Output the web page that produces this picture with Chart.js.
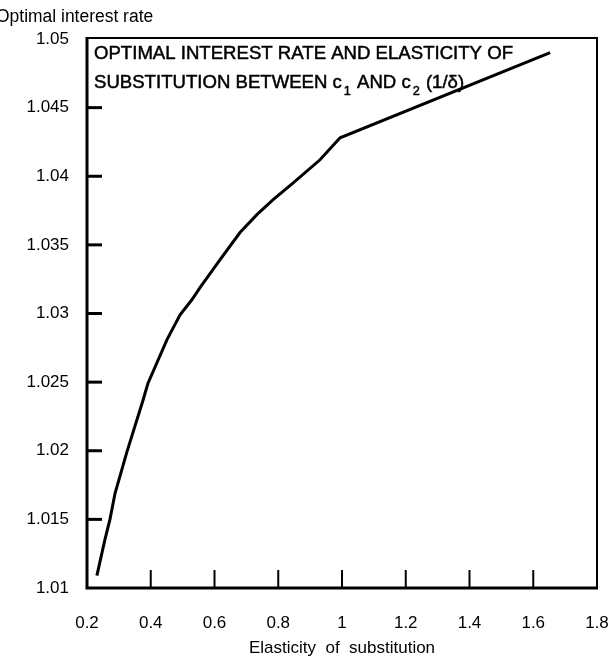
<!DOCTYPE html>
<html>
<head>
<meta charset="utf-8">
<script src="https://cdn.jsdelivr.net/npm/chart.js@4.4.1/dist/chart.umd.min.js"></script>
<style>
  html, body { margin: 0; padding: 0; background: #fff; }
  #wrap { width: 614px; height: 662px; position: relative; }
</style>
</head>
<body>
<div id="wrap"><canvas id="c" width="614" height="662"></canvas></div>
<script>
// Elasticity of substitution (x) and optimal interest rate (y)
const elasticity = [0.231, 0.256, 0.272, 0.288, 0.325, 0.376, 0.391, 0.451, 0.492, 0.529, 0.555, 0.617, 0.680, 0.733, 0.784, 0.846, 0.931, 0.994, 1.653];
const interestRate = [1.0109, 1.0135, 1.0150, 1.0169, 1.0199, 1.0237, 1.0249, 1.0281, 1.0299, 1.0310, 1.0319, 1.0339, 1.0359, 1.0372, 1.0383, 1.0395, 1.0412, 1.0428, 1.0490];
const xTicks = [0.2, 0.4, 0.6, 0.8, 1.0, 1.2, 1.4, 1.6, 1.8];
const yTicks = [1.01, 1.015, 1.02, 1.025, 1.03, 1.035, 1.04, 1.045, 1.05];
const xTitle = 'Elasticity  of  substitution';
const yTitle = 'Optimal interest rate';
const titleLine1 = 'OPTIMAL INTEREST RATE AND ELASTICITY OF';

const points = elasticity.map((x, i) => ({ x: x, y: interestRate[i] }));
const fmt = v => String(Number(Number(v).toFixed(3)));
const FONT = "'Liberation Sans', Arial, sans-serif";

const framePlugin = {
  id: 'frame',
  afterDatasetsDraw(chart) {
    const { ctx, chartArea: a, scales } = chart;
    ctx.save();
    ctx.strokeStyle = '#000';
    ctx.lineCap = 'butt';
    ctx.lineWidth = 2;
    ctx.beginPath();
    ctx.moveTo(a.left, a.top - 1); ctx.lineTo(a.right, a.top - 1);
    ctx.moveTo(a.right, a.top - 2); ctx.lineTo(a.right, a.bottom);
    ctx.stroke();
    ctx.lineWidth = 3;
    ctx.beginPath();
    ctx.moveTo(a.left, a.top - 2); ctx.lineTo(a.left, a.bottom + 1.5);
    ctx.moveTo(a.left - 1.5, a.bottom); ctx.lineTo(a.right + 1, a.bottom);
    ctx.stroke();
    ctx.lineWidth = 3;
    yTicks.slice(1, -1).forEach(v => {
      const y = scales.y.getPixelForValue(v);
      ctx.beginPath(); ctx.moveTo(a.left, y); ctx.lineTo(a.left + 15, y); ctx.stroke();
    });
    ctx.lineWidth = 2;
    xTicks.slice(1, -1).forEach(v => {
      const x = scales.x.getPixelForValue(v);
      ctx.beginPath(); ctx.moveTo(x, a.bottom); ctx.lineTo(x, a.bottom - 18); ctx.stroke();
    });
    ctx.restore();
  },
  afterDraw(chart) {
    const { ctx, chartArea: a } = chart;
    ctx.save();
    ctx.fillStyle = '#000';
    ctx.strokeStyle = '#000';
    ctx.lineWidth = 0.5;
    ctx.textBaseline = 'alphabetic';
    ctx.font = '18px ' + FONT;
    ctx.save();
    ctx.translate(-4, 22);
    ctx.scale(0.97, 1);
    ctx.fillText(yTitle, 0, 0);
    ctx.restore();
    ctx.font = '19px ' + FONT;
    const w1 = ctx.measureText(titleLine1).width;
    const sx = 419 / w1;
    ctx.save();
    ctx.translate(a.left + 7, 59);
    ctx.scale(sx, 1);
    ctx.fillText(titleLine1, 0, 0);
    ctx.strokeText(titleLine1, 0, 0);
    const parts = [
      ['SUBSTITUTION BETWEEN c', false],
      ['1', true],
      [' AND c', false],
      ['2', true],
      [' (1/\u03b4)', false]
    ];
    let x = 0;
    parts.forEach(([t, sub]) => {
      if (sub) {
        ctx.font = '13px ' + FONT;
        x += 2;
        ctx.fillText(t, x, 36);
        ctx.strokeText(t, x, 36);
        x += ctx.measureText(t).width + 1;
      } else {
        ctx.font = '19px ' + FONT;
        ctx.fillText(t, x, 29);
        ctx.strokeText(t, x, 29);
        x += ctx.measureText(t).width;
      }
    });
    ctx.restore();
    ctx.restore();
  }
};

new Chart(document.getElementById('c'), {
  type: 'scatter',
  data: {
    datasets: [{
      data: points,
      showLine: true,
      borderColor: '#000',
      backgroundColor: '#000',
      borderWidth: 3,
      pointRadius: 0,
      tension: 0,
      fill: false
    }]
  },
  options: {
    responsive: false,
    animation: false,
    devicePixelRatio: 1,
    layout: { padding: { left: 0, right: 0, top: 39, bottom: 0 } },
    plugins: { legend: { display: false }, tooltip: { enabled: false }, title: { display: false } },
    scales: {
      x: {
        type: 'linear',
        min: 0.2, max: 1.8,
        afterBuildTicks: s => { s.ticks = xTicks.map(v => ({ value: v })); },
        afterFit: s => { s.height = 74; s.paddingRight = 17; },
        grid: { display: false, drawTicks: false },
        border: { display: false },
        ticks: {
          color: '#000', padding: 25, maxRotation: 0, autoSkip: false,
          font: { family: FONT, size: 17 },
          callback: v => fmt(v)
        },
        title: {
          display: true, text: xTitle, color: '#000',
          font: { family: FONT, size: 17 },
          padding: { top: 0, bottom: 3 }
        }
      },
      y: {
        type: 'linear',
        min: 1.01, max: 1.05,
        afterBuildTicks: s => { s.ticks = yTicks.map(v => ({ value: v })); },
        afterFit: s => { s.width = 87; },
        grid: { display: false, drawTicks: false },
        border: { display: false },
        ticks: {
          color: '#000', padding: 18, autoSkip: false,
          font: { family: FONT, size: 17 },
          callback: v => fmt(v)
        }
      }
    }
  },
  plugins: [framePlugin]
});
</script>
</body>
</html>
